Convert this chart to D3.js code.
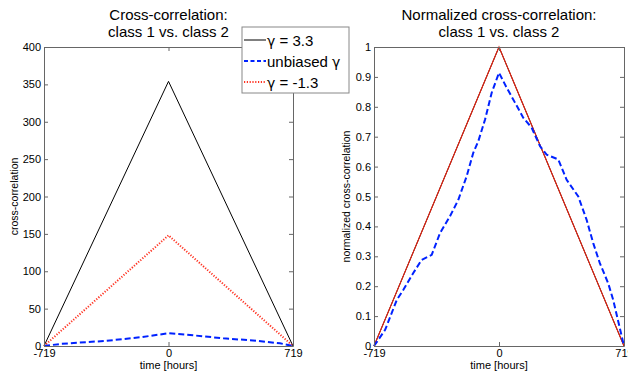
<!DOCTYPE html>
<html>
<head>
<meta charset="utf-8">
<script src="https://cdn.jsdelivr.net/npm/d3@7"></script>
<style>
  body { margin: 0; background: #fff; }
  svg { display: block; font-family: "Liberation Sans", Arial, sans-serif; }
</style>
</head>
<body>
<svg id="chart" width="628" height="377"></svg>
<script>
// x ticks shared by both panels
var xTicks = [-719, 0, 719];
var leftYTicks = [0, 50, 100, 150, 200, 250, 300, 350, 400];
var rightYTicks = [0, 0.1, 0.2, 0.3, 0.4, 0.5, 0.6, 0.7, 0.8, 0.9, 1];

// left panel: raw cross-correlation
var gamma33Hours = [-719, 0, 719];
var gamma33Vals = [0, 354, 0];
var gammaM13Hours = [-719, 0, 719];
var gammaM13Vals = [0, 148, 0];
var unbiasedHours = [-719, -626, -357, -165, 0, 124, 316, 509, 644, 719];
var unbiasedVals = [0, 2.7, 7, 11.6, 17, 14.7, 10.3, 7, 3.6, 0];

// right panel: normalized cross-correlation
var normTriHours = [-719, 0, 719];
var normTriVals = [0, 1, 0];
var normUnbHours = [-719, -655, -588, -550, -493, -445, -387, -339, -282, -234, -186, -148, -119, -80, -42, 0,
                    44, 92, 140, 188, 236, 274, 341, 389, 456, 504, 542, 580, 628, 657, 719];
var normUnbVals = [0, 0.054, 0.154, 0.188, 0.244, 0.288, 0.305, 0.378, 0.434, 0.489, 0.568, 0.646, 0.685, 0.758, 0.847, 0.914,
                   0.864, 0.814, 0.763, 0.73, 0.668, 0.64, 0.624, 0.556, 0.50, 0.422, 0.344, 0.277, 0.21, 0.154, 0];

var legendLabels = [['\u03b3', ' = 3.3'], ['unbiased ', '\u03b3'], ['\u03b3', ' = -1.3']];

var svg = d3.select('#chart');
var plotTop = 47, plotBottom = 346;

function zip(xs, ys) {
  return xs.map(function(x, i) { return [x, ys[i]]; });
}

function panel(opts) {
  var x = d3.scaleLinear().domain([-719, 719]).range([opts.x0, opts.x1]);
  var y = d3.scaleLinear().domain(opts.yDomain).range([plotBottom, plotTop]);
  var g = svg.append('g');

  var line = d3.line().x(d => x(d[0])).y(d => y(d[1]));

  opts.series.forEach(function(s) {
    g.append('path')
      .attr('d', line(zip(s.hours, s.vals)))
      .attr('fill', 'none')
      .attr('stroke', s.color)
      .attr('stroke-width', s.width)
      .attr('stroke-dasharray', s.dash || null);
  });

  // box with inward ticks on all sides
  var bx = svg.append('g');
  bx.append('g').attr('transform', 'translate(0,' + plotBottom + ')')
    .call(d3.axisBottom(x).tickValues(xTicks).tickSizeInner(-4).tickSizeOuter(0).tickPadding(3).tickFormat(d => String(d)));
  bx.append('g').attr('transform', 'translate(0,' + plotTop + ')')
    .call(d3.axisTop(x).tickValues(xTicks).tickSizeInner(-4).tickSizeOuter(0).tickFormat(''));
  bx.append('g').attr('transform', 'translate(' + opts.x0 + ',0)')
    .call(d3.axisLeft(y).tickValues(opts.yTicks).tickSizeInner(-4).tickSizeOuter(0).tickPadding(3).tickFormat(opts.fmt));
  bx.append('g').attr('transform', 'translate(' + opts.x1 + ',0)')
    .call(d3.axisRight(y).tickValues(opts.yTicks).tickSizeInner(-4).tickSizeOuter(0).tickFormat(''));
  bx.selectAll('.domain').attr('stroke', '#666');
  bx.selectAll('.tick line').attr('stroke', '#666');
  bx.selectAll('text').attr('font-size', 11).attr('fill', '#000')
    .attr('font-family', '"Liberation Sans", Arial, sans-serif');

  var cx = (opts.x0 + opts.x1) / 2;
  svg.append('text').attr('x', cx).attr('y', 20).attr('text-anchor', 'middle')
    .attr('font-size', 15).text(opts.title[0]);
  svg.append('text').attr('x', cx).attr('y', 37).attr('text-anchor', 'middle')
    .attr('font-size', 15).text(opts.title[1]);
  svg.append('text').attr('x', cx).attr('y', 369).attr('text-anchor', 'middle')
    .attr('font-size', 11).text('time [hours]');
  svg.append('text')
    .attr('transform', 'translate(' + opts.yLabelX + ',' + (plotTop + plotBottom) / 2 + ') rotate(-90)')
    .attr('text-anchor', 'middle').attr('font-size', 10.5).text(opts.yLabel);
}

panel({
  x0: 44, x1: 293, yDomain: [0, 400], yTicks: leftYTicks, fmt: d => String(d),
  title: ['Cross-correlation:', 'class 1 vs. class 2'],
  yLabel: 'cross-correlation', yLabelX: 18,
  series: [
    {hours: gamma33Hours, vals: gamma33Vals, color: '#000', width: 1},
    {hours: gammaM13Hours, vals: gammaM13Vals, color: '#ff3322', width: 2, dash: '1.2,1.6'},
    {hours: unbiasedHours, vals: unbiasedVals, color: '#0022ff', width: 2, dash: '6,3'}
  ]
});

panel({
  x0: 374, x1: 624, yDomain: [0, 1], yTicks: rightYTicks, fmt: d => String(d),
  title: ['Normalized cross-correlation:', 'class 1 vs. class 2'],
  yLabel: 'normalized cross-correlation', yLabelX: 350,
  series: [
    {hours: normTriHours, vals: normTriVals, color: '#000', width: 1},
    {hours: normTriHours, vals: normTriVals, color: '#e8220f', width: 1.1},
    {hours: normUnbHours, vals: normUnbVals, color: '#0022ff', width: 2, dash: '6,3'}
  ]
});

// legend
var leg = svg.append('g').attr('transform', 'translate(242,27)');
leg.append('rect').attr('width', 107).attr('height', 66)
  .attr('fill', '#fff').attr('stroke', '#888');
var legStyles = [
  {color: '#000', width: 1, dash: null},
  {color: '#0022ff', width: 2, dash: '4,2.5'},
  {color: '#ff3322', width: 2, dash: '1.2,1.6'}
];
legendLabels.forEach(function(parts, i) {
  var yy = 13 + i * 21;
  leg.append('line').attr('x1', 2).attr('x2', 24).attr('y1', yy).attr('y2', yy)
    .attr('stroke', legStyles[i].color).attr('stroke-width', legStyles[i].width)
    .attr('stroke-dasharray', legStyles[i].dash);
  var t = leg.append('text').attr('x', 25).attr('y', yy + 5.5).attr('font-size', 15);
  parts.forEach(function(p) {
    var ts = t.append('tspan').text(p);
    if (p === '\u03b3') ts.attr('font-family', '"DejaVu Sans", sans-serif').attr('font-size', 14);
  });
});
</script>
</body>
</html>
